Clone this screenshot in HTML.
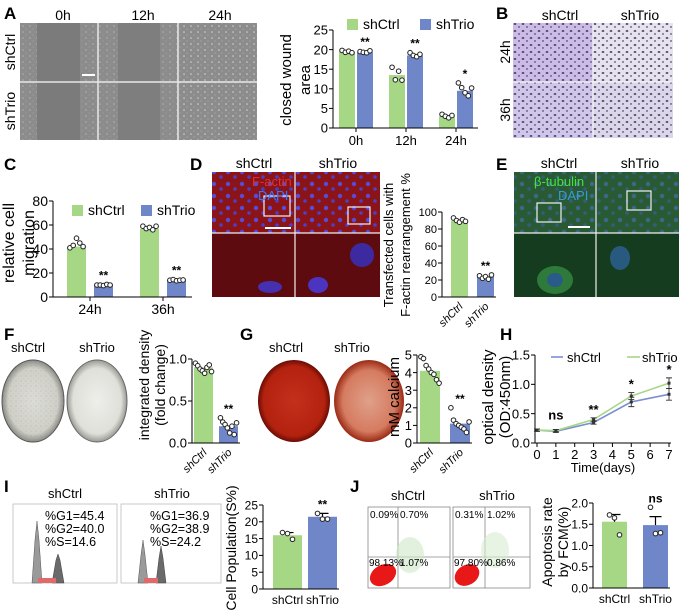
<!DOCTYPE html>
<html><head><meta charset="utf-8">
<style>
html,body{margin:0;padding:0;background:#fff;}
svg{display:block;font-family:"Liberation Sans",Arial,sans-serif;}
</style></head>
<body>
<svg id="fig" width="680" height="610" viewBox="0 0 680 610" xmlns="http://www.w3.org/2000/svg">
<defs>
<pattern id="grain" width="7" height="6" patternUnits="userSpaceOnUse"><circle cx="2" cy="2" r="0.8" fill="#c8c8c8"/><circle cx="5" cy="5" r="0.6" fill="#a8a8a8"/></pattern>
<pattern id="nuc" width="8" height="7" patternUnits="userSpaceOnUse"><ellipse cx="3" cy="3" rx="1.4" ry="0.9" fill="#3a3450"/><ellipse cx="7" cy="6" rx="1" ry="0.7" fill="#524a70"/></pattern>
<pattern id="dapi" width="14" height="12" patternUnits="userSpaceOnUse"><circle cx="4" cy="4" r="2.2" fill="#5a4bd8"/><circle cx="11" cy="9" r="1.8" fill="#4d3fc8"/></pattern>
<pattern id="dapig" width="14" height="12" patternUnits="userSpaceOnUse"><circle cx="4" cy="4" r="2.2" fill="#3a6a8a"/><circle cx="11" cy="9" r="1.8" fill="#2f5f7a"/></pattern>
<pattern id="speck" width="5" height="5" patternUnits="userSpaceOnUse"><circle cx="1" cy="1" r="0.6" fill="#8a8a8a"/><circle cx="3.5" cy="3.5" r="0.5" fill="#b0b0b0"/></pattern>
<radialGradient id="redDish1"><stop offset="0" stop-color="#c4301c"/><stop offset="0.85" stop-color="#b3220f"/><stop offset="1" stop-color="#6a0c05"/></radialGradient>
<radialGradient id="redDish2"><stop offset="0" stop-color="#e0a08a"/><stop offset="0.75" stop-color="#d57b60"/><stop offset="1" stop-color="#9a2a16"/></radialGradient>
<radialGradient id="grayDish1"><stop offset="0" stop-color="#dcdcd6"/><stop offset="0.8" stop-color="#cfcfc8"/><stop offset="1" stop-color="#8a8a84"/></radialGradient>
<radialGradient id="grayDish2"><stop offset="0" stop-color="#eeeeea"/><stop offset="0.8" stop-color="#e0e0da"/><stop offset="1" stop-color="#9a9a94"/></radialGradient>
</defs>

<g font-weight="bold" font-size="17" fill="#000">
<text x="4" y="19">A</text>
<text x="496" y="19">B</text>
<text x="4" y="170">C</text>
<text x="190" y="170">D</text>
<text x="496" y="170">E</text>
<text x="4" y="340">F</text>
<text x="240" y="340">G</text>
<text x="500" y="340">H</text>
<text x="4" y="492">I</text>
<text x="350" y="492">J</text>
</g>

<g>
<g font-size="14" text-anchor="middle">
<text x="63" y="20">0h</text>
<text x="143" y="20">12h</text>
<text x="220" y="20">24h</text>
<text transform="translate(15,52) rotate(-90)">shCtrl</text>
<text transform="translate(15,111) rotate(-90)">shTrio</text>
</g>
<rect x="20" y="23" width="237" height="117" fill="#8c8c8c"/>
<rect x="20" y="23" width="237" height="117" fill="url(#grain)" opacity="0.6"/>
<rect x="37" y="23" width="43" height="117" fill="#7b7b7b"/>
<rect x="118" y="23" width="42" height="117" fill="#7e7e7e"/>
<rect x="178" y="23" width="79" height="117" fill="url(#grain)"/>
<g stroke="#e8e8e8" stroke-width="1.5"><line x1="20" y1="82" x2="257" y2="82"/><line x1="98" y1="23" x2="98" y2="140"/><line x1="178" y1="23" x2="178" y2="140"/></g>
<line x1="82" y1="75" x2="95" y2="75" stroke="#fff" stroke-width="2"/>
</g>

<g>
<g font-size="14" text-anchor="middle">
<text x="560" y="20">shCtrl</text>
<text x="640" y="20">shTrio</text>
<text transform="translate(510,52) rotate(-90)">24h</text>
<text transform="translate(510,110) rotate(-90)">36h</text>
</g>
<rect x="513" y="23" width="160" height="115" fill="#e6e2ee"/>
<rect x="513" y="23" width="80" height="59" fill="#cbbbe6"/>
<rect x="513" y="82" width="80" height="56" fill="#cfc6ea"/>
<rect x="593" y="82" width="80" height="56" fill="#dcd6ea"/>
<rect x="513" y="23" width="160" height="115" fill="url(#nuc)"/>
<g stroke="#f4f4f4" stroke-width="1.2"><line x1="513" y1="82" x2="673" y2="82"/><line x1="593" y1="23" x2="593" y2="138"/></g>
</g>

<g>
<g font-size="14" text-anchor="middle">
<text x="254" y="168">shCtrl</text>
<text x="338" y="168">shTrio</text>
</g>
<rect x="212" y="172" width="168" height="61" fill="#8a1418"/>
<rect x="212" y="172" width="168" height="61" fill="url(#dapi)"/>
<rect x="212" y="233" width="168" height="64" fill="#5e0b10"/>
<ellipse cx="270" cy="287" rx="12" ry="6" fill="#4530b0"/><ellipse cx="362" cy="255" rx="12" ry="12" fill="#3d2aa0"/><ellipse cx="318" cy="285" rx="10" ry="8" fill="#4a34c0"/>
<g stroke="#f0f0f0" stroke-width="1.2" fill="none"><line x1="212" y1="233" x2="380" y2="233"/><line x1="295" y1="172" x2="295" y2="297"/><rect x="264" y="196" width="26" height="20"/><rect x="348" y="207" width="22" height="17"/></g>
<line x1="265" y1="228" x2="291" y2="228" stroke="#fff" stroke-width="2"/>
<text x="252" y="186" fill="#e03030" font-size="13">F-actin</text>
<text x="258" y="200" fill="#3a78ff" font-size="13">DAPI</text>
</g>

<g>
<g font-size="14" text-anchor="middle">
<text x="559" y="168">shCtrl</text>
<text x="640" y="168">shTrio</text>
</g>
<rect x="514" y="172" width="165" height="61" fill="#2a5a34"/>
<rect x="514" y="172" width="165" height="61" fill="url(#dapig)"/>
<rect x="514" y="233" width="165" height="64" fill="#153c1e"/>
<ellipse cx="555" cy="280" rx="18" ry="14" fill="#2e7a3a"/><ellipse cx="555" cy="280" rx="8" ry="7" fill="#2a5a88"/>
<ellipse cx="620" cy="258" rx="10" ry="12" fill="#285a80"/>
<g stroke="#f0f0f0" stroke-width="1.2" fill="none"><line x1="514" y1="233" x2="679" y2="233"/><line x1="596" y1="172" x2="596" y2="297"/><rect x="537" y="203" width="24" height="19"/><rect x="627" y="191" width="24" height="19"/></g>
<line x1="568" y1="227" x2="590" y2="227" stroke="#fff" stroke-width="2"/>
<text x="534" y="186" fill="#44e044" font-size="13">β-tubulin</text>
<text x="558" y="200" fill="#3a9ad8" font-size="13">DAPI</text>
</g>

<g>
<g font-size="13" text-anchor="middle">
<text x="28" y="352">shCtrl</text>
<text x="97" y="352">shTrio</text>
</g>
<ellipse cx="33" cy="401" rx="31" ry="41" fill="url(#grayDish1)" stroke="#555" stroke-width="1"/>
<ellipse cx="33" cy="401" rx="31" ry="41" fill="url(#speck)" opacity="0.35"/>
<ellipse cx="97" cy="401" rx="30" ry="41" fill="url(#grayDish2)" stroke="#666" stroke-width="1"/>
</g>

<g>
<g font-size="13" text-anchor="middle">
<text x="286" y="352">shCtrl</text>
<text x="352" y="352">shTrio</text>
</g>
<ellipse cx="294" cy="401" rx="36" ry="41" fill="url(#redDish1)"/>
<ellipse cx="369" cy="401" rx="35" ry="41" fill="url(#redDish2)"/>
</g>

<g>
<g font-size="13" text-anchor="middle">
<text x="65" y="498">shCtrl</text>
<text x="172" y="498">shTrio</text>
</g>
<rect x="13" y="504" width="104" height="79" fill="#fff" stroke="#bbb" stroke-width="0.8"/>
<rect x="121" y="504" width="100" height="79" fill="#fff" stroke="#bbb" stroke-width="0.8"/>
<path d="M32,583 L35,540 L37,521 L39,540 L42,583 Z" fill="#9a9a9a" stroke="#555" stroke-width="0.5"/>
<path d="M52,583 L56,560 L58,554 L60,560 L64,583 Z" fill="#6a6a6a" stroke="#444" stroke-width="0.5"/>
<rect x="38" y="578" width="18" height="5" fill="#e06a6a"/>
<path d="M138,583 L141,555 L143,540 L145,555 L148,583 Z" fill="#9a9a9a" stroke="#555" stroke-width="0.5"/>
<path d="M156,583 L159,558 L161,546 L163,558 L166,583 Z" fill="#6a6a6a" stroke="#444" stroke-width="0.5"/>
<rect x="144" y="578" width="14" height="5" fill="#e06a6a"/>
<g font-size="12.5">
<text x="45" y="520">%G1=45.4</text>
<text x="45" y="533">%G2=40.0</text>
<text x="45" y="546">%S=14.6</text>
<text x="150" y="520">%G1=36.9</text>
<text x="150" y="533">%G2=38.9</text>
<text x="150" y="546">%S=24.2</text>
</g>
</g>

<g>
<g font-size="13" text-anchor="middle">
<text x="408" y="500">shCtrl</text>
<text x="497" y="500">shTrio</text>
</g>
<rect x="368" y="507" width="82" height="81" fill="#fff" stroke="#888" stroke-width="0.8"/>
<rect x="453" y="507" width="77" height="81" fill="#fff" stroke="#888" stroke-width="0.8"/>
<g stroke="#888" stroke-width="0.8"><line x1="398" y1="507" x2="398" y2="588"/><line x1="368" y1="557" x2="450" y2="557"/><line x1="485" y1="507" x2="485" y2="588"/><line x1="453" y1="557" x2="530" y2="557"/></g>
<ellipse cx="383" cy="575" rx="14" ry="10" fill="#e81818" transform="rotate(-30 383 575)"/>
<ellipse cx="467" cy="575" rx="13" ry="10" fill="#e81818" transform="rotate(-30 467 575)"/>
<ellipse cx="410" cy="555" rx="14" ry="18" fill="#cfe8c8" opacity="0.6"/>
<ellipse cx="495" cy="550" rx="14" ry="18" fill="#d7ecd0" opacity="0.6"/>
<g font-size="10">
<text x="370" y="518">0.09%</text>
<text x="400" y="518">0.70%</text>
<text x="369" y="566">98.13%</text>
<text x="400" y="566">1.07%</text>
<text x="455" y="518">0.31%</text>
<text x="487" y="518">1.02%</text>
<text x="454" y="566">97.80%</text>
<text x="487" y="566">0.86%</text>
</g>
</g>

<g id="charts"></g>
</svg>

<script>
const groups2 = ['shCtrl', 'shTrio'];
const aCats = ['0h', '12h', '24h'];
const aCtrl = [19.5, 13.5, 3.0];
const aTrio = [19.3, 18.5, 9.5];
const aCtrlPts = [[19.8, 19.3, 19.6, 19.2], [15.5, 12.3, 14.5, 12.2], [3.5, 3.0, 2.6, 3.2]];
const aTrioPts = [[19.5, 19.3, 19.2, 19.7], [19.2, 18.5, 18.2, 18.8], [11.5, 10.3, 9.0, 8.2, 10.2]];
const aTicks = [0, 5, 10, 15, 20, 25];
const aSig = ['**', '**', '*'];
const cCats = ['24h', '36h'];
const cCtrl = [42, 57];
const cTrio = [10, 14];
const cCtrlPts = [[41, 43, 49, 45, 42], [59, 57, 58, 56, 59]];
const cTrioPts = [[10, 10, 9.5, 10.5, 10], [14, 14.5, 13.5, 14, 14.2]];
const cTicks = [0, 20, 40, 60, 80];
const cSig = ['**', '**'];
const dVals = [90, 24];
const dPts = [[93, 90, 88, 91, 89], [25, 22, 24, 21, 26]];
const dTicks = [0, 20, 40, 60, 80, 100];
const fVals = [0.9, 0.2];
const fPts = [[0.95, 0.92, 0.88, 0.86, 0.83, 0.9, 0.93, 0.85], [0.3, 0.25, 0.22, 0.18, 0.12, 0.2, 0.1, 0.24]];
const fTicks = [0.0, 0.5, 1.0];
const gVals = [4.1, 1.1];
const gPts = [[4.9, 4.8, 4.4, 4.2, 4.0, 3.9, 3.6, 3.4], [2.0, 1.3, 1.1, 1.0, 0.9, 0.8, 0.6, 1.2]];
const gTicks = [0, 1, 2, 3, 4, 5];
const iVals = [16, 21.5];
const iErr = [0.8, 1.0];
const iPts = [[16.8, 16.5, 14.8], [22.5, 20.8, 20.8]];
const iTicks = [0, 5, 10, 15, 20, 25];
const jVals = [1.56, 1.48];
const jErr = [0.17, 0.2];
const jPts = [[1.72, 1.65, 1.25], [1.9, 1.28, 1.3]];
const jTicks = [0.0, 0.5, 1.0, 1.5, 2.0];
const hDays = [0, 1, 3, 5, 7];
const hCtrl = [0.22, 0.2, 0.35, 0.7, 0.83];
const hTrio = [0.22, 0.21, 0.4, 0.8, 1.02];
const hCtrlErr = [0.02, 0.02, 0.03, 0.08, 0.1];
const hTrioErr = [0.02, 0.02, 0.03, 0.06, 0.09];
const hSig = ['', 'ns', '**', '*', '*'];
const hXTicks = [0, 1, 2, 3, 4, 5, 6, 7];
const hYTicks = [0.0, 0.5, 1.0, 1.5];

const GREEN = '#a6d785', BLUE = '#6f87c9';
const NS = 'http://www.w3.org/2000/svg';
const root = document.getElementById('charts');
function mk(tag, attrs, parent) {
  const e = document.createElementNS(NS, tag);
  for (const k in attrs) e.setAttribute(k, attrs[k]);
  (parent || root).appendChild(e);
  return e;
}
function tx(x, y, s, attrs, parent) {
  const e = mk('text', Object.assign({x: x, y: y}, attrs || {}), parent);
  e.textContent = s;
  return e;
}
function fmt(v, d) { return d ? v.toFixed(d) : String(v); }

function yAxis(g, ax, yScale, ticks, dec, fs) {
  const l = mk('line', {x1: ax, x2: ax, y1: yScale(ticks[0]), y2: yScale(ticks[ticks.length - 1]), stroke: '#000', 'stroke-width': 1}, g);
  
  
  ticks.forEach(t => {
    const tk = mk('line', {x1: ax - 4, x2: ax, y1: yScale(t), y2: yScale(t), stroke: '#000'}, g);
    
    
    const lb = tx(ax - 5, yScale(t) + fs * 0.36, fmt(t, dec), {'text-anchor': 'end', 'font-size': fs}, g);
    
    
  });
}
function dots(g, cx, spread, pts, yScale) {
  pts.forEach((p, k) => {
    const off = (k - (pts.length - 1) / 2) * spread;
    const c = mk('circle', {cx: cx + off, cy: yScale(p), r: 2.3, fill: '#fff', stroke: '#222', 'stroke-width': 1}, g);
    
    
  });
}
function bar(g, x, w, v, yScale, color, name) {
  const r = mk('rect', {x: x, y: yScale(v), width: w, height: yScale(0) - yScale(v), fill: color}, g);
  
  
  return r;
}
function errBar(g, cx, v, e, yScale) {
  const p = mk('path', {d: `M${cx},${yScale(v)}V${yScale(v + e)}M${cx - 6},${yScale(v + e)}H${cx + 6}`, stroke: '#000', 'stroke-width': 1.2, fill: 'none'}, g);
  
  
}
function yTitle(g, x, y, lines, fs, lh) {
  lines.forEach((s, i) => {
    const t = tx(0, 0, s, {transform: `translate(${x + i * lh},${y}) rotate(-90)`, 'text-anchor': 'middle', 'font-size': fs}, g);
    
    
  });
}

function grouped(name, cfg) {
  const g = mk('g', {});
  
  
  const yS = v => cfg.y0 - v / cfg.vmax * (cfg.y0 - cfg.yTop);
  cfg.cats.forEach((c, i) => {
    const gx = cfg.start + i * cfg.step;
    bar(g, gx, cfg.bw, cfg.ctrl[i], yS, GREEN, 'bar-shctrl-' + c);
    bar(g, gx + cfg.bw + cfg.gap, cfg.bw, cfg.trio[i], yS, BLUE, 'bar-shtrio-' + c);
    dots(g, gx + cfg.bw / 2, 3.3, cfg.ctrlPts[i], yS);
    dots(g, gx + cfg.bw * 1.5 + cfg.gap, 3.3, cfg.trioPts[i], yS);
    const s = tx(gx + cfg.bw * 1.5 + cfg.gap, yS(Math.max(...cfg.trioPts[i])) - 5, cfg.sig[i], {'text-anchor': 'middle', 'font-size': 12, 'font-weight': 'bold'}, g);
    
    
    const cl = tx(gx + cfg.bw + cfg.gap / 2, cfg.y0 + 17, c, {'text-anchor': 'middle', 'font-size': cfg.fs}, g);
    
    
    const tk = mk('line', {x1: gx + cfg.bw + cfg.gap / 2, x2: gx + cfg.bw + cfg.gap / 2, y1: cfg.y0, y2: cfg.y0 + 4, stroke: '#000'}, g);
    
    
  });
  const xa = mk('line', {x1: cfg.ax, x2: cfg.xEnd, y1: cfg.y0, y2: cfg.y0, stroke: '#000'}, g);
  
  
  yAxis(g, cfg.ax, yS, cfg.ticks, 0, cfg.fs);
  yTitle(g, cfg.titleX, cfg.titleY, cfg.title, cfg.titleFs || (cfg.fs + 2), cfg.titleLH);
  const lg = mk('g', {}, g);
  
  
  const r1 = mk('rect', {x: cfg.legX[0], y: cfg.legY - 9, width: 11, height: 11, fill: GREEN}, lg);
  
  
  const t1 = tx(cfg.legX[0] + 16, cfg.legY + 1, 'shCtrl', {'font-size': 14}, lg);
  
  
  const r2 = mk('rect', {x: cfg.legX[1], y: cfg.legY - 9, width: 11, height: 11, fill: BLUE}, lg);
  
  
  const t2 = tx(cfg.legX[1] + 16, cfg.legY + 1, 'shTrio', {'font-size': 14}, lg);
  
  
}

grouped('chart-a-wound', {cats: aCats, ctrl: aCtrl, trio: aTrio, ctrlPts: aCtrlPts, trioPts: aTrioPts, sig: aSig, ticks: aTicks,
  vmax: 25, y0: 128, yTop: 30, ax: 333, xEnd: 478, start: 339, step: 50, bw: 16, gap: 2, fs: 13,
  title: ['closed wound', 'area'], titleX: 291, titleY: 80, titleLH: 19, legX: [347, 420], legY: 28});
grouped('chart-c-migration', {cats: cCats, ctrl: cCtrl, trio: cTrio, ctrlPts: cCtrlPts, trioPts: cTrioPts, sig: cSig, ticks: cTicks,
  vmax: 80, y0: 297, yTop: 201, ax: 53, xEnd: 192, start: 67, step: 73, bw: 19, gap: 8, fs: 14, titleFs: 16,
  title: ['relative cell', 'migration'], titleX: 14, titleY: 243, titleLH: 20, legX: [72, 141], legY: 214});

function twoBar(name, cfg) {
  const g = mk('g', {});
  
  
  const yS = v => cfg.y0 - v / cfg.vmax * (cfg.y0 - cfg.yTop);
  const cols = [GREEN, BLUE];
  groups2.forEach((c, i) => {
    const bx = cfg.start + i * cfg.step;
    bar(g, bx, cfg.bw, cfg.vals[i], yS, cols[i], 'bar-' + c.toLowerCase());
    if (cfg.err) errBar(g, bx + cfg.bw / 2, cfg.vals[i], cfg.err[i], yS);
    dots(g, bx + cfg.bw / 2, cfg.spread, cfg.pts[i], yS);
    let lab;
    if (cfg.rot) {
      lab = tx(0, 0, c, {transform: `translate(${bx + cfg.bw / 2 + 4},${cfg.y0 + 10}) rotate(-45)`, 'text-anchor': 'end', 'font-size': 11, 'font-style': 'italic'}, g);
    } else {
      lab = tx(bx + cfg.bw / 2, cfg.y0 + 15, c, {'text-anchor': 'middle', 'font-size': 12}, g);
    }
    
    
  });
  const topV = Math.max(...cfg.pts[1], cfg.vals[1] + (cfg.err ? cfg.err[1] : 0));
  const s = tx(cfg.start + cfg.step + cfg.bw / 2, yS(topV) - 5, cfg.sig, {'text-anchor': 'middle', 'font-size': 12, 'font-weight': 'bold'}, g);
  
  
  const xa = mk('line', {x1: cfg.ax, x2: cfg.start + cfg.step + cfg.bw + 2, y1: cfg.y0, y2: cfg.y0, stroke: '#000'}, g);
  
  
  yAxis(g, cfg.ax, yS, cfg.ticks, cfg.dec, cfg.fs);
  yTitle(g, cfg.titleX, cfg.titleY, cfg.title, cfg.titleFs || (cfg.fs + 2), cfg.titleLH);
}
twoBar('chart-d-factin', {vals: dVals, pts: dPts, ticks: dTicks, vmax: 100, y0: 297, yTop: 212, ax: 442, start: 451, step: 26, bw: 17, spread: 3, dec: 0, fs: 11,
  sig: '**', rot: true, title: ['Transfected cells with', 'F-actin rearrangement %'], titleX: 393, titleY: 245, titleLH: 17});
twoBar('chart-f-density', {vals: fVals, pts: fPts, ticks: fTicks, vmax: 1.0, y0: 443, yTop: 359, ax: 192, start: 194, step: 25, bw: 19, spread: 2.3, dec: 1, fs: 13,
  sig: '**', rot: true, title: ['integrated density', '(fold change)'], titleX: 149, titleY: 385, titleLH: 16, titleFs: 14});
twoBar('chart-g-calcium', {vals: gVals, pts: gPts, ticks: gTicks, vmax: 5, y0: 443, yTop: 355, ax: 417, start: 420, step: 30, bw: 20, spread: 2.6, dec: 0, fs: 13,
  sig: '**', rot: true, title: ['mM calcium'], titleX: 399, titleY: 397, titleLH: 18, titleFs: 15});
twoBar('chart-i-spop', {vals: iVals, err: iErr, pts: iPts, ticks: iTicks, vmax: 25, y0: 589, yTop: 505, ax: 263, start: 273, step: 35, bw: 29, spread: 5, dec: 0, fs: 12,
  sig: '**', rot: false, title: ['Cell Population(S%)'], titleX: 236, titleY: 548, titleLH: 18});
twoBar('chart-j-apoptosis', {vals: jVals, err: jErr, pts: jPts, ticks: jTicks, vmax: 2.0, y0: 588, yTop: 503, ax: 593, start: 602, step: 41, bw: 25, spread: 5, dec: 1, fs: 12,
  sig: 'ns', rot: false, title: ['Apoptosis rate', 'by FCM(%)'], titleX: 552, titleY: 542, titleLH: 16});

(function () {
  const g = mk('g', {});
  
  
  const x0 = 537, x7 = 669, y0 = 443, yT = 355, ax = 535;
  const xS = d => x0 + d / 7 * (x7 - x0);
  const yS = v => y0 - v / 1.5 * (y0 - yT);
  yAxis(g, ax, yS, hYTicks, 1, 13);
  const xa = mk('line', {x1: ax, x2: x7 + 2, y1: y0, y2: y0, stroke: '#000'}, g);
  
  
  hXTicks.forEach(d => {
    const tk = mk('line', {x1: xS(d), x2: xS(d), y1: y0, y2: y0 + 4, stroke: '#000'}, g);
    
    
    const lb = tx(xS(d), y0 + 16, String(d), {'text-anchor': 'middle', 'font-size': 13}, g);
    
    
  });
  const xt = tx(603, 472, 'Time(days)', {'text-anchor': 'middle', 'font-size': 13}, g);
  
  
  yTitle(g, 493, 397, ['optical density', '(OD:450nm)'], 15, 17);
  function series(vals, errs, color, nm) {
    const d = hDays.map((day, i) => (i ? 'L' : 'M') + xS(day) + ',' + yS(vals[i])).join('');
    const p = mk('path', {d: d, fill: 'none', stroke: color, 'stroke-width': 1.6}, g);
    
    
    hDays.forEach((day, i) => {
      const e = mk('path', {d: `M${xS(day)},${yS(vals[i] - errs[i])}V${yS(vals[i] + errs[i])}M${xS(day) - 3},${yS(vals[i] + errs[i])}H${xS(day) + 3}M${xS(day) - 3},${yS(vals[i] - errs[i])}H${xS(day) + 3}`, stroke: '#333', 'stroke-width': 0.9, fill: 'none'}, g);
      
      
      const m = mk('rect', {x: xS(day) - 1.5, y: yS(vals[i]) - 1.5, width: 3, height: 3, fill: '#333'}, g);
      
      
    });
  }
  series(hCtrl, hCtrlErr, '#7a8fd0', 'shctrl');
  series(hTrio, hTrioErr, '#a6d785', 'shtrio');
  hDays.forEach((day, i) => {
    if (!hSig[i]) return;
    const top = Math.max(hCtrl[i] + hCtrlErr[i], hTrio[i] + hTrioErr[i]);
    const s = tx(xS(day), yS(top) - (hSig[i] === 'ns' ? 10 : 4), hSig[i], {'text-anchor': 'middle', 'font-size': 13, 'font-weight': 'bold'}, g);
    
    
  });
  const lg = mk('g', {}, g);
  
  
  const l1 = mk('line', {x1: 551, x2: 563, y1: 357, y2: 357, stroke: '#7a8fd0', 'stroke-width': 1.6}, lg);
  
  
  const lt1 = tx(567, 362, 'shCtrl', {'font-size': 13}, lg);
  
  
  const l2 = mk('line', {x1: 627, x2: 640, y1: 357, y2: 357, stroke: '#a6d785', 'stroke-width': 1.6}, lg);
  
  
  const lt2 = tx(642, 362, 'shTrio', {'font-size': 13}, lg);
  
  
})();
</script>
</body></html>
